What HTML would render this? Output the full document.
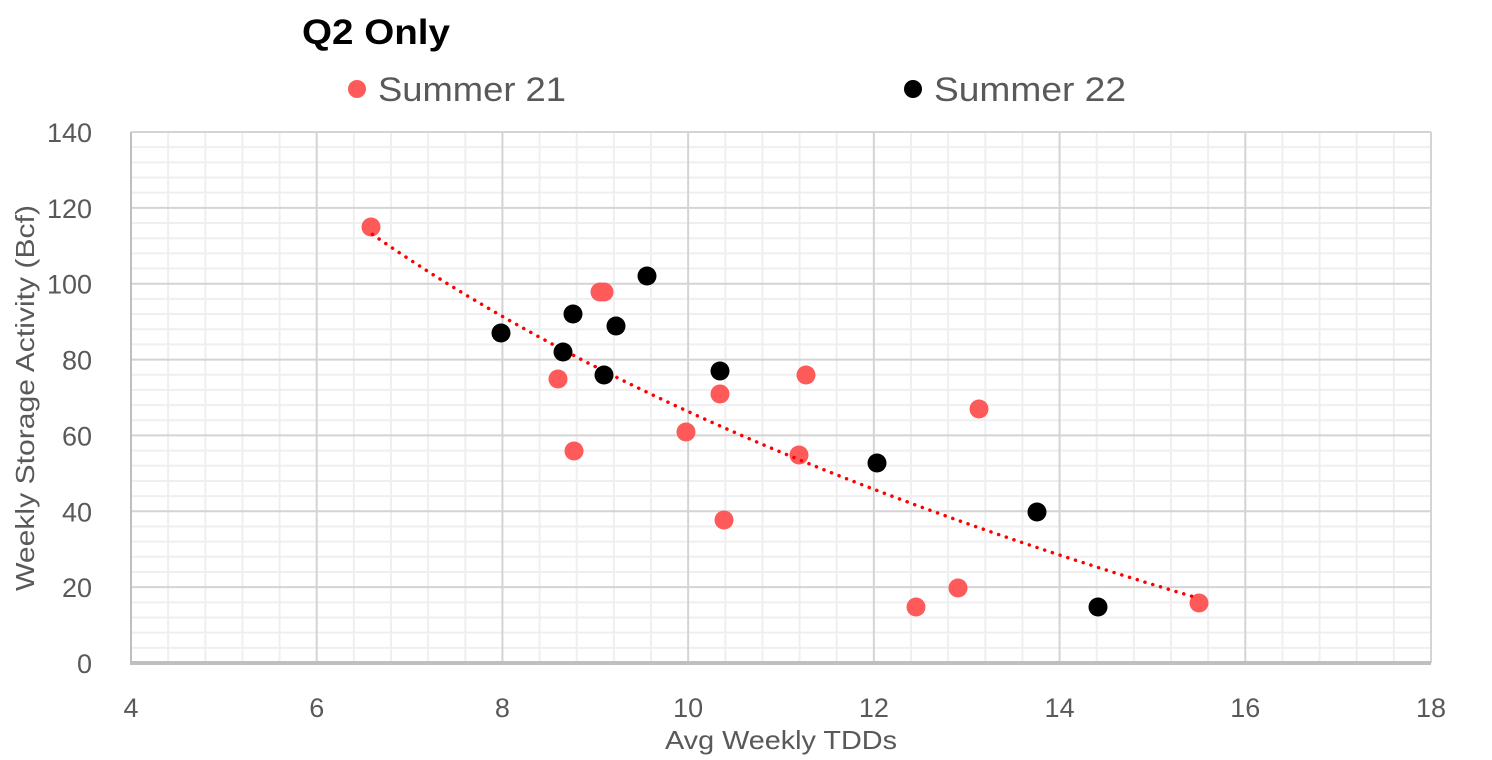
<!DOCTYPE html>
<html><head><meta charset="utf-8"><style>
html,body{margin:0;padding:0;background:#fff;}
svg{display:block;font-family:"Liberation Sans",sans-serif;}
</style></head><body>
<svg id="s" width="1492" height="760" xmlns="http://www.w3.org/2000/svg">
<text x="302" y="44" font-size="35" font-weight="bold" fill="#000" textLength="148" lengthAdjust="spacingAndGlyphs">Q2 Only</text>
<circle cx="357" cy="89" r="9" fill="#ff5a5a"/>
<text x="378" y="101" font-size="34" fill="#595959" textLength="188" lengthAdjust="spacingAndGlyphs">Summer 21</text>
<circle cx="913" cy="89" r="9" fill="#000"/>
<text x="934" y="101" font-size="34" fill="#595959" textLength="192" lengthAdjust="spacingAndGlyphs">Summer 22</text>
<g id="grid"></g>
<g id="pts"></g>
<text transform="translate(34,398) rotate(-90)" text-anchor="middle" font-size="26" fill="#595959" textLength="386" lengthAdjust="spacingAndGlyphs">Weekly Storage Activity (Bcf)</text>
<text x="781" y="749" text-anchor="middle" font-size="26" fill="#595959" textLength="232" lengthAdjust="spacingAndGlyphs">Avg Weekly TDDs</text>
</svg>
<script>
var NS="http://www.w3.org/2000/svg";
function px(x){return 131+(x-4)*1300/14;}
function py(y){return 663-y*531/140;}
function el(t,a,p){var e=document.createElementNS(NS,t);for(var k in a)e.setAttribute(k,a[k]);(p||document.getElementById('grid')).appendChild(e);return e;}
for(var i=0;i<=35;i++){var x=4+i*0.4;if(i%5)el('line',{x1:px(x),x2:px(x),y1:132,y2:663,stroke:'#efefef','stroke-width':2});}
for(var j=0;j<=35;j++){var y=j*4;if(j%5)el('line',{x1:131,x2:1431,y1:py(y),y2:py(y),stroke:'#efefef','stroke-width':2});}
for(var x=4;x<=18;x+=2){el('line',{x1:px(x),x2:px(x),y1:132,y2:663,stroke:'#d4d4d4','stroke-width':2});
 var t=el('text',{x:px(x),y:717,'text-anchor':'middle','font-size':27,fill:'#595959'});t.textContent=x;}
for(var y=0;y<=140;y+=20){if(y>0)el('line',{x1:131,x2:1431,y1:py(y),y2:py(y),stroke:'#d4d4d4','stroke-width':2});
 var t=el('text',{x:92,y:py(y)+10,'text-anchor':'end','font-size':27,fill:'#595959'});t.textContent=y;}
el('line',{x1:131,x2:131,y1:132,y2:663,stroke:'#bfbfbf','stroke-width':2});
el('line',{x1:130,x2:1431,y1:663,y2:663,stroke:'#bfbfbf','stroke-width':4});
var p=document.getElementById('pts');
var red=[[371,227],[600,292],[604,292],[558,379],[574,451],[720,394],[686,432],[806,375],[799,455],[724,520],[979,409],[916,607],[958,588],[1199,603]];
var blk=[[501,333],[573,314],[616,326],[647,276],[563,352],[604,375],[720,371],[877,463],[1037,512],[1098,607]];
red.forEach(function(c){el('circle',{cx:c[0],cy:c[1],r:9.5,fill:'#ff5a5a'},p);});
var d='';
for(var x=6.6;x<=15.51;x+=0.05){var y=113-112.4*(Math.log(x)-Math.log(6.6));d+=(d?'L':'M')+px(x).toFixed(1)+','+py(y).toFixed(1);}
el('path',{d:d,fill:'none',stroke:'#ff0000','stroke-width':3.5,'stroke-dasharray':'0.1 8','stroke-linecap':'round'},p);
blk.forEach(function(c){el('circle',{cx:c[0],cy:c[1],r:9.5,fill:'#000'},p);});
</script>
</body></html>
